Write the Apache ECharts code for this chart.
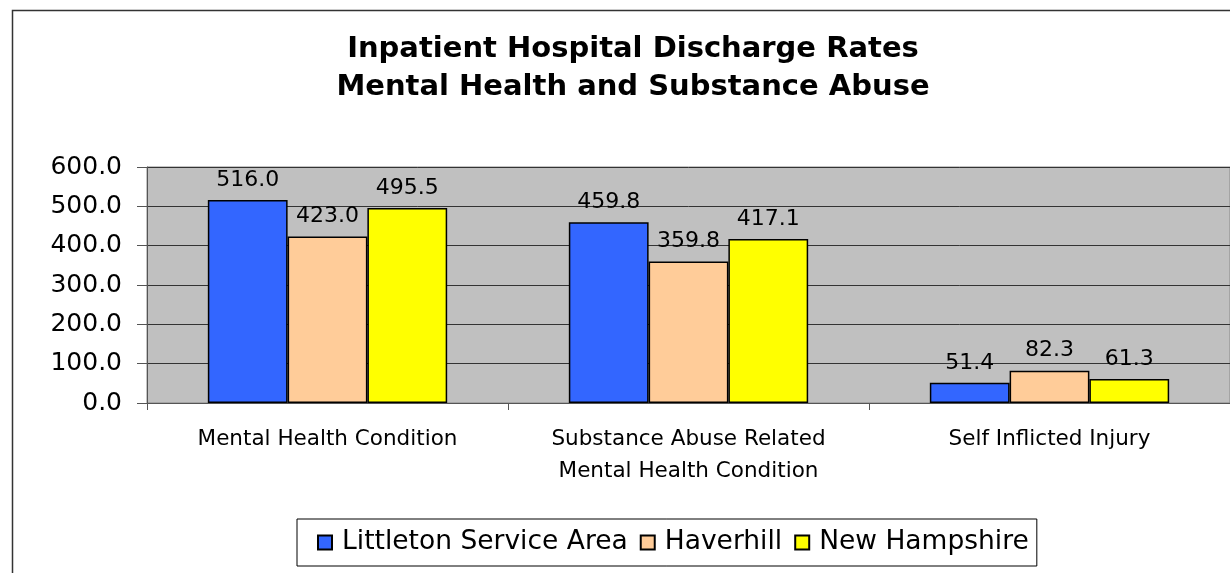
<!DOCTYPE html>
<html><head><meta charset="utf-8">
<script src="https://cdn.jsdelivr.net/npm/echarts@6/dist/echarts.min.js"></script>
<style>html,body{margin:0;padding:0;background:#fff}#c{width:1230px;height:573px}</style>
</head><body><div id="c"></div>
<script>
const titleLines = ['Inpatient Hospital Discharge Rates', 'Mental Health and Substance Abuse'];
const categories = ['Mental Health Condition', 'Substance Abuse Related\nMental Health Condition', 'Self Inflicted Injury'];
const seriesNames = ['Littleton Service Area', 'Haverhill', 'New Hampshire'];
const littleton = [516.0, 459.8, 51.4];
const haverhill = [423.0, 359.8, 82.3];
const newHampshire = [495.5, 417.1, 61.3];
const yTicks = { min: 0, max: 600, interval: 100 };
const colors = ['#3366FF', '#FFCC99', '#FFFF00'];

const FONT = 'DejaVu Sans, Verdana, sans-serif';
const chart = echarts.init(document.getElementById('c'));
const values = [littleton, haverhill, newHampshire];
chart.setOption({
  animation: false,
  backgroundColor: '#fff',
  title: {
    text: titleLines.join('\n'),
    left: 628, top: 25, textAlign: 'center',
    textStyle: { fontFamily: FONT, fontWeight: 'bold', fontSize: 29, lineHeight: 38, color: '#000' }
  },
  graphic: [{
    type: 'rect', left: 10, top: 8, z: -1,
    shape: { width: 1400, height: 800 },
    style: { fill: 'none', stroke: '#333', lineWidth: 1.5 }
  }],
  legend: {
    data: seriesNames,
    left: 297, top: 519,
    padding: [10, 8, 10, 20],
    itemWidth: 14, itemHeight: 14, itemGap: 12,
    borderColor: '#000', borderWidth: 1,
    textStyle: { fontFamily: FONT, fontSize: 26.5, color: '#000', padding: [0, 0, 0, 5] },
    icon: 'rect'
  },
  grid: { left: 147, top: 167, right: -3, bottom: 170, show: true, backgroundColor: '#C0C0C0', borderColor: '#888', borderWidth: 1 },
  xAxis: {
    type: 'category', data: categories,
    axisLine: { lineStyle: { color: '#555', width: 1 } },
    axisTick: { show: true, length: 7, lineStyle: { color: '#555' } },
    axisLabel: { fontFamily: FONT, fontSize: 21.5, color: '#000', margin: 20, lineHeight: 32 }
  },
  yAxis: {
    type: 'value', min: yTicks.min, max: yTicks.max, interval: yTicks.interval,
    axisLine: { show: true, lineStyle: { color: '#555' } },
    axisTick: { show: true, length: 10, lineStyle: { color: '#555' } },
    splitLine: { lineStyle: { color: '#333', width: 1 } },
    axisLabel: { fontFamily: FONT, fontSize: 25, color: '#000', margin: 25, formatter: v => v.toFixed(1) }
  },
  series: seriesNames.map((n, i) => ({
    name: n, type: 'bar', data: values[i],
    barGap: '0%', barCategoryGap: '33.7%',
    itemStyle: { color: colors[i], borderColor: '#000', borderWidth: 1.5 },
    label: { show: true, position: 'top', distance: 9, fontFamily: FONT, fontSize: 22, color: '#000', formatter: p => p.value.toFixed(1) }
  }))
});
</script></body></html>
